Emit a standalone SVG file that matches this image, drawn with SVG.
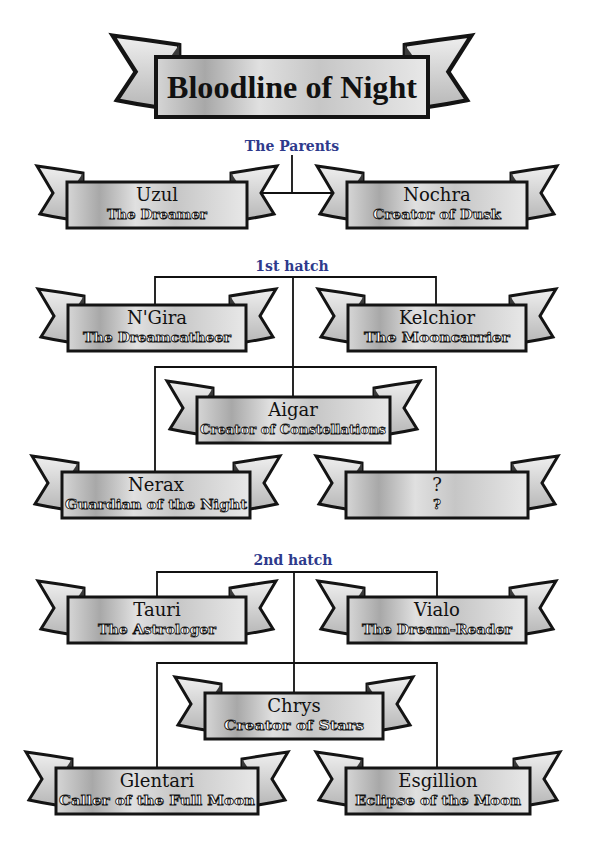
<svg xmlns="http://www.w3.org/2000/svg" xmlns:xlink="http://www.w3.org/1999/xlink" width="596" height="865" viewBox="0 0 596 865">
<style>
.face{fill:url(#metal);stroke:#141414;stroke-width:3}
.tail{fill:url(#tailg);stroke:#141414;stroke-width:3;stroke-linejoin:miter}
.fold{fill:#3a3a3a}
.nm{font-family:"DejaVu Serif","Liberation Serif",serif;font-size:18px;fill:#111;text-anchor:middle}
.sb{font-family:"DejaVu Serif","Liberation Serif",serif;font-weight:bold;font-size:13.5px;fill:#ffffff;stroke:#111;stroke-width:0.8px;text-anchor:middle}
.lb{font-family:"DejaVu Serif","Liberation Serif",serif;font-weight:bold;font-size:14px;fill:#2e3a8c;text-anchor:middle}
.ttl{font-family:"Liberation Serif","DejaVu Serif",serif;font-weight:bold;font-size:32px;fill:#111;text-anchor:middle}
.conn{fill:none;stroke:#111;stroke-width:1.8}
</style>
<defs>
<linearGradient id="metal" x1="0" y1="0" x2="1" y2="0">
<stop offset="0" stop-color="#d6d6d6"/>
<stop offset="0.18" stop-color="#a8a8a8"/>
<stop offset="0.38" stop-color="#e0e0e0"/>
<stop offset="0.6" stop-color="#c6c6c6"/>
<stop offset="1" stop-color="#e8e8e8"/>
</linearGradient>
<linearGradient id="tailg" x1="0" y1="0" x2="0" y2="1">
<stop offset="0" stop-color="#efefef"/>
<stop offset="1" stop-color="#b8b8b8"/>
</linearGradient>
<g id="lt">
<path class="tail" d="M-30,-16 Q-8,-13 16,-9 L16,36 L0,37 Q-13,35 -27,32 L-14,11 Z"/>
<path class="fold" d="M10,0 L16,-9 L16,0 Z"/>
</g>
<g id="rt">
<path class="tail" d="M30,-16 Q8,-13 -16,-9 L-16,36 L0,37 Q13,35 27,32 L14,11 Z"/>
<path class="fold" d="M-10,0 L-16,-9 L-16,0 Z"/>
</g>
</defs>
<rect width="596" height="865" fill="#ffffff"/>

<g id="connectors">
<path class="conn" d="M292,155 V193 M250,193 H345"/>
<path class="conn" d="M155,305 V277 H436 V305 M293,277 V397 M155,472 V367 H436 V472"/>
<path class="conn" d="M157,597 V572 H437 V597 M294,572 V693 M157,768 V663 H437 V768"/>
</g>

<g id="labels">
<text class="lb" x="292" y="151">The Parents</text>
<text class="lb" x="292" y="271">1st hatch</text>
<text class="lb" x="293" y="565">2nd hatch</text>
</g>

<g id="title">
<use xlink:href="#lt" transform="translate(156,57) scale(1.45,1.35)"/>
<use xlink:href="#rt" transform="translate(428,57) scale(1.45,1.35)"/>
<rect class="face" x="156" y="57" width="272" height="60" style="stroke-width:4"/>
<text class="ttl" x="292" y="98" textLength="250" lengthAdjust="spacingAndGlyphs">Bloodline of Night</text>
</g>

<g id="uzul">
<use xlink:href="#lt" x="67" y="182"/><use xlink:href="#rt" x="247" y="182"/>
<rect class="face" x="67" y="182" width="180" height="46"/>
<text class="nm" x="157" y="201">Uzul</text>
<text class="sb" x="157" y="219" textLength="100" lengthAdjust="spacingAndGlyphs">The Dreamer</text>
</g>

<g id="nochra">
<use xlink:href="#lt" x="347" y="182"/><use xlink:href="#rt" x="527" y="182"/>
<rect class="face" x="347" y="182" width="180" height="46"/>
<text class="nm" x="437" y="201">Nochra</text>
<text class="sb" x="437" y="219" textLength="128" lengthAdjust="spacingAndGlyphs">Creator of Dusk</text>
</g>

<g id="ngira">
<use xlink:href="#lt" x="68" y="305"/><use xlink:href="#rt" x="246" y="305"/>
<rect class="face" x="68" y="305" width="178" height="46"/>
<text class="nm" x="157" y="324">N'Gira</text>
<text class="sb" x="157" y="342" textLength="148" lengthAdjust="spacingAndGlyphs">The Dreamcatheer</text>
</g>

<g id="kelchior">
<use xlink:href="#lt" x="348" y="305"/><use xlink:href="#rt" x="526" y="305"/>
<rect class="face" x="348" y="305" width="178" height="46"/>
<text class="nm" x="437" y="324">Kelchior</text>
<text class="sb" x="437" y="342" textLength="146" lengthAdjust="spacingAndGlyphs">The Mooncarrier</text>
</g>

<g id="aigar">
<use xlink:href="#lt" x="197" y="397"/><use xlink:href="#rt" x="390" y="397"/>
<rect class="face" x="197" y="397" width="193" height="46"/>
<text class="nm" x="293" y="416">Aigar</text>
<text class="sb" x="293" y="434" textLength="186" lengthAdjust="spacingAndGlyphs">Creator of Constellations</text>
</g>

<g id="nerax">
<use xlink:href="#lt" x="62" y="472"/><use xlink:href="#rt" x="250" y="472"/>
<rect class="face" x="62" y="472" width="188" height="46"/>
<text class="nm" x="156" y="491">Nerax</text>
<text class="sb" x="156" y="509" textLength="182" lengthAdjust="spacingAndGlyphs">Guardian of the Night</text>
</g>

<g id="unknown">
<use xlink:href="#lt" x="346" y="472"/><use xlink:href="#rt" x="528" y="472"/>
<rect class="face" x="346" y="472" width="182" height="46"/>
<text class="nm" x="437" y="491">?</text>
<text class="sb" x="437" y="509">?</text>
</g>

<g id="tauri">
<use xlink:href="#lt" x="68" y="597"/><use xlink:href="#rt" x="246" y="597"/>
<rect class="face" x="68" y="597" width="178" height="46"/>
<text class="nm" x="157" y="616">Tauri</text>
<text class="sb" x="157" y="634" textLength="118" lengthAdjust="spacingAndGlyphs">The Astrologer</text>
</g>

<g id="vialo">
<use xlink:href="#lt" x="348" y="597"/><use xlink:href="#rt" x="526" y="597"/>
<rect class="face" x="348" y="597" width="178" height="46"/>
<text class="nm" x="437" y="616">Vialo</text>
<text class="sb" x="437" y="634" textLength="150" lengthAdjust="spacingAndGlyphs">The Dream-Reader</text>
</g>

<g id="chrys">
<use xlink:href="#lt" x="205" y="693"/><use xlink:href="#rt" x="383" y="693"/>
<rect class="face" x="205" y="693" width="178" height="46"/>
<text class="nm" x="294" y="712">Chrys</text>
<text class="sb" x="294" y="730" textLength="140" lengthAdjust="spacingAndGlyphs">Creator of Stars</text>
</g>

<g id="glentari">
<use xlink:href="#lt" x="56" y="768"/><use xlink:href="#rt" x="258" y="768"/>
<rect class="face" x="56" y="768" width="202" height="46"/>
<text class="nm" x="157" y="787">Glentari</text>
<text class="sb" x="157" y="805" textLength="196" lengthAdjust="spacingAndGlyphs">Caller of the Full Moon</text>
</g>

<g id="esgillion">
<use xlink:href="#lt" x="346" y="768"/><use xlink:href="#rt" x="530" y="768"/>
<rect class="face" x="346" y="768" width="184" height="46"/>
<text class="nm" x="438" y="787">Esgillion</text>
<text class="sb" x="438" y="805" textLength="166" lengthAdjust="spacingAndGlyphs">Eclipse of the Moon</text>
</g>
</svg>
